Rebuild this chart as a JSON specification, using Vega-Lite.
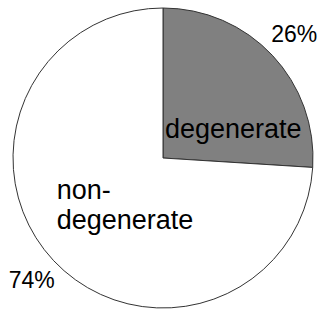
{
  "$schema": "https://vega.github.io/schema/vega-lite/v6.json",
  "width": 320,
  "height": 312,
  "autosize": {"type": "fit", "contains": "padding"},
  "padding": {"left": 6, "top": 4, "right": 0, "bottom": 0},
  "background": "white",
  "view": {"stroke": null},
  "data": {"values": [
    {"category": "degenerate", "share": 26, "pct": "26%", "inner_a": ["degenerate"], "inner_b": [""]},
    {"category": "non-degenerate", "share": 74, "pct": "74%", "inner_a": [""], "inner_b": ["non-", "degenerate"]}
  ]},
  "encoding": {
    "theta": {"field": "share", "type": "quantitative", "stack": true},
    "order": {"field": "share", "type": "quantitative", "sort": "ascending"},
    "color": {"field": "category", "type": "nominal", "sort": ["degenerate", "non-degenerate"],
      "scale": {"domain": ["degenerate", "non-degenerate"], "range": ["#808080", "#ffffff"]}, "legend": null}
  },
  "layer": [
    {"mark": {"type": "arc", "outerRadius": 150, "stroke": "#333333", "strokeWidth": 1}},
    {"mark": {"type": "text", "radius": 180, "font": "Liberation Sans", "fontSize": 23},
      "encoding": {"text": {"field": "pct"}, "color": {"value": "black"}}},
    {"mark": {"type": "text", "radius": 80, "dx": 12, "dy": 27, "font": "Liberation Sans", "fontSize": 27},
      "encoding": {"text": {"field": "inner_a"}, "color": {"value": "black"}}},
    {"mark": {"type": "text", "radius": 80, "dx": -48, "dy": -22, "align": "left", "lineHeight": 30, "font": "Liberation Sans", "fontSize": 27},
      "encoding": {"text": {"field": "inner_b"}, "color": {"value": "black"}}}
  ]
}
